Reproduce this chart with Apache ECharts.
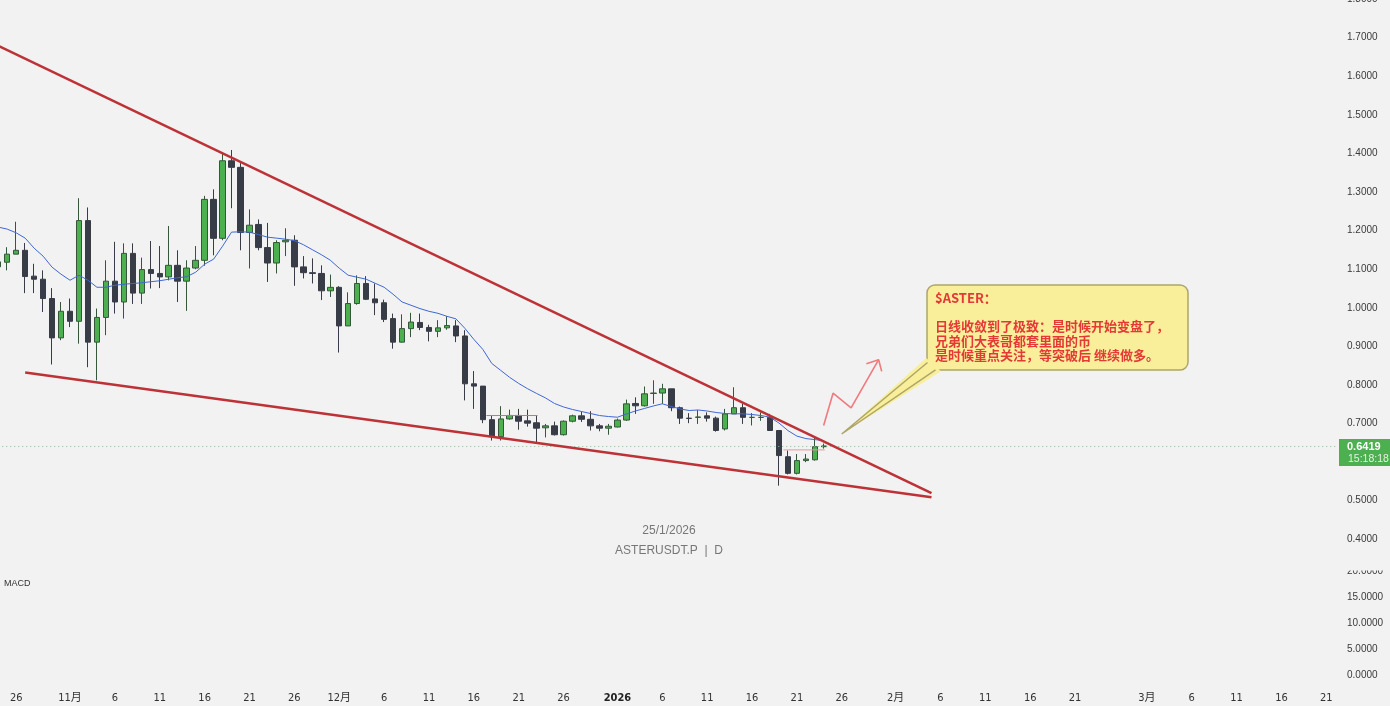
<!DOCTYPE html>
<html>
<head>
<meta charset="utf-8">
<title>ASTERUSDT.P · 1D</title>
<script src="https://cdn.jsdelivr.net/npm/echarts@6/dist/echarts.min.js"></script>
<style>
  html, body { margin: 0; padding: 0; background: #f2f2f2; }
  #chart { width: 1390px; height: 706px; }
</style>
</head>
<body>
<div id="chart"></div>
<script>
// ---- data ---------------------------------------------------------------
// Daily candles from this date onward, one row per day: [open, close, low, high]
const firstCandleDate = '2025-10-24';
const ohlc = [
  [1.106, 1.119, 1.098, 1.125],
  [1.118, 1.139, 1.097, 1.157],
  [1.139, 1.149, 1.139, 1.223],
  [1.149, 1.081, 1.038, 1.168],
  [1.082, 1.074, 1.038, 1.114],
  [1.074, 1.024, 0.989, 1.097],
  [1.024, 0.922, 0.853, 1.051],
  [0.922, 0.991, 0.916, 1.015],
  [0.991, 0.965, 0.950, 1.024],
  [0.965, 1.226, 0.907, 1.284],
  [1.226, 0.911, 0.846, 1.260],
  [0.911, 0.975, 0.812, 0.998],
  [0.975, 1.069, 0.929, 1.123],
  [1.069, 1.015, 0.985, 1.171],
  [1.015, 1.141, 0.972, 1.167],
  [1.141, 1.038, 1.010, 1.167],
  [1.038, 1.099, 1.010, 1.130],
  [1.099, 1.089, 1.050, 1.173],
  [1.089, 1.080, 1.051, 1.160],
  [1.080, 1.110, 1.071, 1.212],
  [1.110, 1.069, 1.015, 1.149],
  [1.069, 1.103, 0.992, 1.123],
  [1.103, 1.123, 1.100, 1.160],
  [1.123, 1.281, 1.109, 1.290],
  [1.281, 1.180, 1.136, 1.307],
  [1.180, 1.381, 1.175, 1.401],
  [1.381, 1.364, 1.258, 1.409],
  [1.364, 1.195, 1.149, 1.375],
  [1.195, 1.214, 1.102, 1.255],
  [1.216, 1.156, 1.149, 1.229],
  [1.156, 1.116, 1.067, 1.220],
  [1.116, 1.169, 1.089, 1.175],
  [1.171, 1.175, 1.134, 1.206],
  [1.175, 1.106, 1.057, 1.188],
  [1.106, 1.091, 1.076, 1.134],
  [1.091, 1.089, 1.063, 1.128],
  [1.089, 1.044, 1.020, 1.110],
  [1.044, 1.053, 1.028, 1.086],
  [1.053, 0.953, 0.884, 1.056],
  [0.953, 1.011, 0.953, 1.040],
  [1.011, 1.063, 1.008, 1.084],
  [1.063, 1.022, 1.020, 1.082],
  [1.023, 1.013, 0.981, 1.063],
  [1.013, 0.970, 0.963, 1.021],
  [0.972, 0.911, 0.894, 0.985],
  [0.911, 0.946, 0.910, 0.983],
  [0.946, 0.963, 0.924, 0.987],
  [0.962, 0.949, 0.942, 0.985],
  [0.949, 0.939, 0.913, 0.956],
  [0.939, 0.948, 0.924, 0.968],
  [0.948, 0.954, 0.943, 0.978],
  [0.953, 0.927, 0.911, 0.968],
  [0.927, 0.803, 0.760, 0.942],
  [0.803, 0.797, 0.738, 0.836],
  [0.797, 0.710, 0.701, 0.797],
  [0.710, 0.666, 0.656, 0.720],
  [0.666, 0.712, 0.656, 0.745],
  [0.712, 0.721, 0.710, 0.736],
  [0.721, 0.706, 0.684, 0.738],
  [0.707, 0.701, 0.692, 0.736],
  [0.702, 0.688, 0.649, 0.721],
  [0.689, 0.694, 0.664, 0.699],
  [0.694, 0.671, 0.669, 0.705],
  [0.671, 0.706, 0.669, 0.708],
  [0.706, 0.720, 0.703, 0.723],
  [0.720, 0.711, 0.704, 0.731],
  [0.711, 0.694, 0.682, 0.732],
  [0.694, 0.688, 0.680, 0.699],
  [0.688, 0.693, 0.671, 0.699],
  [0.691, 0.709, 0.690, 0.713],
  [0.709, 0.751, 0.707, 0.762],
  [0.752, 0.746, 0.725, 0.768],
  [0.746, 0.777, 0.744, 0.796],
  [0.778, 0.779, 0.751, 0.812],
  [0.779, 0.790, 0.751, 0.803],
  [0.790, 0.741, 0.732, 0.790],
  [0.741, 0.714, 0.699, 0.744],
  [0.714, 0.713, 0.701, 0.727],
  [0.716, 0.717, 0.699, 0.735],
  [0.720, 0.714, 0.705, 0.729],
  [0.714, 0.682, 0.679, 0.718],
  [0.686, 0.725, 0.682, 0.738],
  [0.725, 0.741, 0.725, 0.794],
  [0.741, 0.716, 0.699, 0.751],
  [0.716, 0.716, 0.695, 0.727],
  [0.716, 0.716, 0.707, 0.729],
  [0.716, 0.682, 0.682, 0.725],
  [0.682, 0.617, 0.539, 0.682],
  [0.614, 0.571, 0.568, 0.630],
  [0.571, 0.604, 0.568, 0.621],
  [0.604, 0.608, 0.600, 0.621],
  [0.606, 0.640, 0.604, 0.664],
  [0.640, 0.6419, 0.635, 0.648]
];

// Moving average, one value per candle
const movingAverage = [
  1.2091, 1.2039, 1.1943, 1.1805, 1.1545, 1.1338, 1.1052, 1.0870, 1.0714, 1.0844,
  1.0714, 1.0532, 1.0532, 1.0584, 1.0610, 1.0629, 1.0649, 1.0675, 1.0701, 1.0740,
  1.0779, 1.0805, 1.0922, 1.1130, 1.1260, 1.1597, 1.1961, 1.1969, 1.1961, 1.1896,
  1.1831, 1.1805, 1.1779, 1.1740, 1.1636, 1.1506, 1.1377, 1.1234, 1.1026, 1.0844,
  1.0792, 1.0740, 1.0636, 1.0532, 1.0351, 1.0151, 1.0065, 0.9979, 0.9909, 0.9857,
  0.9779, 0.9714, 0.9468, 0.9182, 0.8922, 0.8558, 0.8377, 0.8195, 0.8039, 0.7901,
  0.7779, 0.7662, 0.7519, 0.7429, 0.7364, 0.7312, 0.7260, 0.7208, 0.7182, 0.7164,
  0.7247, 0.7325, 0.7390, 0.7455, 0.7512, 0.7442, 0.7377, 0.7338, 0.7351, 0.7325,
  0.7286, 0.7260, 0.7252, 0.7252, 0.7234, 0.7208, 0.7164, 0.7013, 0.6818, 0.6675,
  0.6610, 0.6584, 0.6558
];

const lastPrice = 0.6419;
const countdown = '15:18:18';

// Time axis labels
const timeTicks = [
  ['2025-10-26', '26'], ['2025-11-01', '11月'], ['2025-11-06', '6'], ['2025-11-11', '11'],
  ['2025-11-16', '16'], ['2025-11-21', '21'], ['2025-11-26', '26'], ['2025-12-01', '12月'],
  ['2025-12-06', '6'], ['2025-12-11', '11'], ['2025-12-16', '16'], ['2025-12-21', '21'],
  ['2025-12-26', '26'], ['2026-01-01', '2026'], ['2026-01-06', '6'], ['2026-01-11', '11'],
  ['2026-01-16', '16'], ['2026-01-21', '21'], ['2026-01-26', '26'], ['2026-02-01', '2月'],
  ['2026-02-06', '6'], ['2026-02-11', '11'], ['2026-02-16', '16'], ['2026-02-21', '21'],
  ['2026-03-01', '3月'], ['2026-03-06', '6'], ['2026-03-11', '11'], ['2026-03-16', '16'],
  ['2026-03-21', '21']
];

// Drawn trendlines: [date, price] endpoints
const upperTrend = [['2025-10-24', 1.679], ['2026-02-05', 0.5195]];
const lowerTrend = [['2025-10-27', 0.8325], ['2026-02-05', 0.509]];

// Short horizontal range marks: [startDay, endDay, price], days counted from 2025-11-01
const rangeMarks = [[46.4, 52.1, 0.7208], [79.5, 84.1, 0.6317]];

// Hand-drawn "breakout" arrow path and its head, [day, price]
const arrowPath = [[83.98, 0.6948], [85.03, 0.7787], [87.04, 0.7408], [90.11, 0.8655]];
const arrowHead = [[88.74, 0.8551], [90.11, 0.8655], [90.45, 0.8351]];

const noteTitle = '$ASTER：';
const noteLines = [
  '日线收敛到了极致：是时候开始变盘了，',
  '兄弟们大表哥都套里面的币',
  '是时候重点关注，等突破后 继续做多。'
];

// ---- helpers ------------------------------------------------------------
const ORIGIN = Date.UTC(2025, 10, 1);
function dayOf(s) {
  const [y, m, d] = s.split('-').map(Number);
  return Math.round((Date.UTC(y, m - 1, d) - ORIGIN) / 86400000);
}
const firstDay = dayOf(firstCandleDate);
const candleData = ohlc.map((r, i) => [firstDay + i, r[0], r[1], r[2], r[3]]);
const maData = movingAverage.map((v, i) => [firstDay + i, v]);
const tickMap = {};
timeTicks.forEach(([d, t]) => { tickMap[dayOf(d)] = t; });

const X_MIN = -8, X_MAX = 141.3;
const GRID_LEFT = -1.76, GRID_RIGHT = 52;
const AXIS_FONT = "'Liberation Sans', Arial, sans-serif";

const chart = echarts.init(document.getElementById('chart'), null, { renderer: 'canvas' });

const option = {
  backgroundColor: '#f2f2f2',
  animation: false,
  textStyle: { fontFamily: AXIS_FONT },
  grid: [
    { left: GRID_LEFT, right: GRID_RIGHT, top: -0.9, height: 540.2, outerBoundsMode: 'none', containLabel: false },
    { left: GRID_LEFT, right: GRID_RIGHT, top: 571.3, height: 104.4, outerBoundsMode: 'none', containLabel: false }
  ],
  xAxis: [
    { gridIndex: 0, type: 'value', min: X_MIN, max: X_MAX, show: false },
    {
      gridIndex: 1, type: 'value', min: X_MIN, max: X_MAX, interval: 1,
      axisLine: { show: false }, axisTick: { show: false }, splitLine: { show: false },
      axisLabel: {
        margin: 17, fontSize: 11, color: '#333',
        fontFamily: "'Liberation Sans Narrow', 'DejaVu Sans Condensed', 'Noto Sans CJK SC', sans-serif",
        showMinLabel: true, showMaxLabel: true,
        formatter: v => {
          const r = Math.round(v);
          if (Math.abs(v - r) > 1e-6) return '';
          const t = tickMap[r];
          if (t == null) return '';
          return /^\d{4}$/.test(t) ? '{b|' + t + '}' : t;
        },
        rich: { b: { fontWeight: 'bold', fontSize: 11, color: '#222' } }
      }
    }
  ],
  yAxis: [
    {
      gridIndex: 0, type: 'value', position: 'right', min: 0.4, max: 1.8, interval: 0.1,
      axisLine: { show: false }, axisTick: { show: false }, splitLine: { show: false },
      axisLabel: { margin: 9, fontSize: 10, color: '#3a3a3a', formatter: v => v.toFixed(4) }
    },
    {
      gridIndex: 1, type: 'value', position: 'right', min: 0, max: 20, interval: 5,
      axisLine: { show: false }, axisTick: { show: false }, splitLine: { show: false },
      axisLabel: { margin: 9, fontSize: 10, color: '#3a3a3a', formatter: v => v.toFixed(4) }
    }
  ],
  series: [
    {
      name: 'ASTERUSDT.P',
      type: 'candlestick',
      xAxisIndex: 0, yAxisIndex: 0,
      barWidth: 6,
      data: candleData,
      itemStyle: {
        color: '#4caf50', borderColor: '#35563a',
        color0: '#383c47', borderColor0: '#383c47',
        borderWidth: 1
      },
      z: 3,
      markLine: {
        silent: true, symbol: 'none',
        label: { show: false },
        lineStyle: { color: '#86c08a', type: [1, 3], width: 1 },
        data: [{ yAxis: lastPrice }]
      }
    },
    {
      name: 'MA', type: 'line', xAxisIndex: 0, yAxisIndex: 0,
      data: maData, showSymbol: false, smooth: false,
      lineStyle: { color: '#3f67d4', width: 1 }, z: 4
    },
    {
      name: 'upper', type: 'line', xAxisIndex: 0, yAxisIndex: 0,
      data: upperTrend.map(([d, p]) => [dayOf(d), p]), showSymbol: false,
      lineStyle: { color: '#bd3237', width: 2.6 }, z: 5
    },
    {
      name: 'lower', type: 'line', xAxisIndex: 0, yAxisIndex: 0,
      data: lowerTrend.map(([d, p]) => [dayOf(d), p]), showSymbol: false,
      lineStyle: { color: '#bd3237', width: 2.6 }, z: 5
    },
    ...rangeMarks.map(([a, b, p], i) => ({
      name: 'range' + i, type: 'line', xAxisIndex: 0, yAxisIndex: 0,
      data: [[a, p], [b, p]], showSymbol: false,
      lineStyle: { color: i === 0 ? '#e06a6a' : '#e89a9a', width: 1 }, z: 4
    })),
    {
      name: 'arrow', type: 'line', xAxisIndex: 0, yAxisIndex: 0,
      data: arrowPath, showSymbol: false,
      lineStyle: { color: '#f07a7e', width: 1.6 }, z: 5
    },
    {
      name: 'arrowHead', type: 'line', xAxisIndex: 0, yAxisIndex: 0,
      data: arrowHead, showSymbol: false,
      lineStyle: { color: '#f07a7e', width: 1.6 }, z: 5
    },
    {
      name: 'MACD', type: 'line', xAxisIndex: 1, yAxisIndex: 1, data: []
    }
  ]
};

chart.setOption(option);

// Price tag on the right scale, placed at the last price
const tagY = chart.convertToPixel({ yAxisIndex: 0 }, lastPrice);
const BG = '#f2f2f2';
const noteFill = '#f9ef9a';
const noteStroke = '#aea56a';

chart.setOption({
  graphic: [
    // hides the upper half of the top MACD scale label, as at a pane edge
    { type: 'rect', shape: { x: 1338, y: 558, width: 52, height: 12.6 }, style: { fill: BG }, z: 100 },
    {
      type: 'rect', shape: { x: 1339, y: tagY - 7, width: 51, height: 27 },
      style: { fill: '#4caf50' }, z: 101
    },
    {
      type: 'text', x: 1347, y: tagY + 1.3, z: 102,
      style: { text: lastPrice.toFixed(4), fill: '#ffffff', fontSize: 11, fontWeight: 'bold',
               fontFamily: AXIS_FONT, verticalAlign: 'middle' }
    },
    {
      type: 'text', x: 1348, y: tagY + 13, z: 102,
      style: { text: countdown, fill: '#e3f3e3', fontSize: 10.5, fontFamily: AXIS_FONT, verticalAlign: 'middle' }
    },
    // pane label
    {
      type: 'text', x: 4, y: 584, z: 50,
      style: { text: 'MACD', fill: '#333', fontSize: 9, fontFamily: AXIS_FONT, verticalAlign: 'middle' }
    },
    // symbol / date caption
    {
      type: 'text', x: 669, y: 530.5, z: 2,
      style: { text: '25/1/2026', fill: '#777', fontSize: 12, fontFamily: AXIS_FONT,
               align: 'center', verticalAlign: 'middle' }
    },
    {
      type: 'text', x: 669, y: 550.5, z: 2,
      style: { text: 'ASTERUSDT.P  |  D', fill: '#777', fontSize: 12, fontFamily: AXIS_FONT,
               align: 'center', verticalAlign: 'middle' }
    },
    // callout box
    {
      type: 'rect', shape: { x: 927, y: 285, width: 261, height: 85, r: 8 },
      style: { fill: noteFill, stroke: noteStroke, lineWidth: 1.5 }, z: 60
    },
    {
      type: 'polygon', shape: { points: [[841.7, 434], [926.2, 358], [941, 371.2]] },
      style: { fill: noteFill }, z: 61
    },
    {
      type: 'polyline', shape: { points: [[927.5, 362.5], [841.7, 434], [935.5, 369.8]] },
      style: { stroke: noteStroke, lineWidth: 1.5, fill: null }, z: 62
    },
    {
      type: 'text', x: 935, y: 290.8, z: 63,
      style: {
        text: [noteTitle, ''].concat(noteLines).join('\n'),
        fill: '#e53935', fontSize: 13, fontWeight: 'bold', lineHeight: 14.3,
        fontFamily: "'Noto Sans CJK SC', sans-serif", verticalAlign: 'top'
      }
    }
  ]
});
</script>
</body>
</html>
